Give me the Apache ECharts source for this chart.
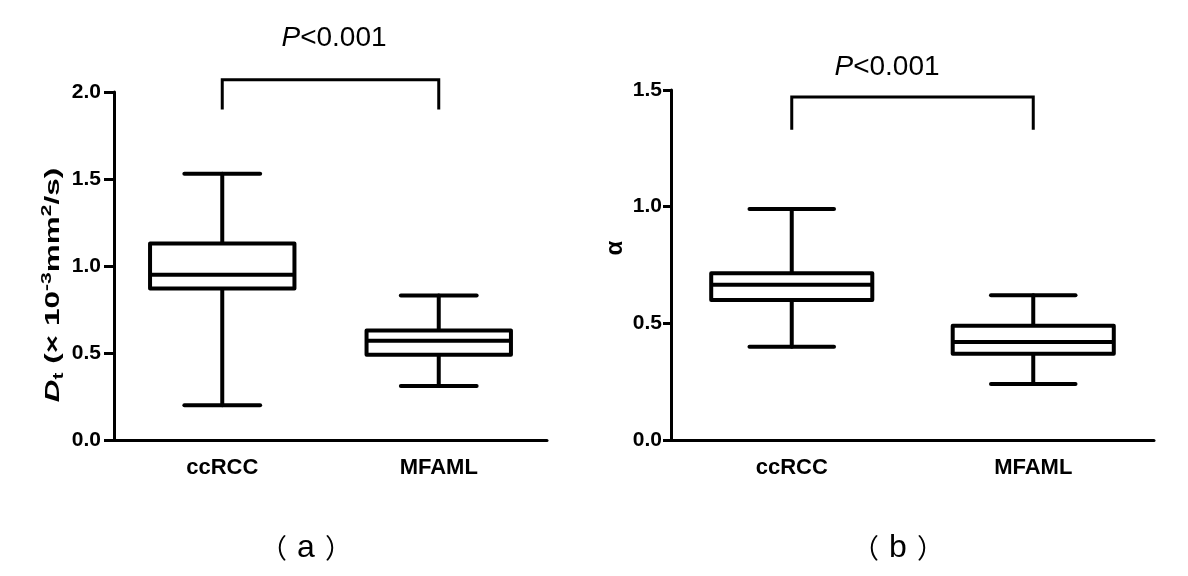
<!DOCTYPE html>
<html>
<head>
<meta charset="utf-8">
<script src="https://cdn.jsdelivr.net/npm/echarts@6/dist/echarts.min.js"></script>
<style>
html, body { margin: 0; padding: 0; background: #fff; }
#main { width: 1188px; height: 576px; }
</style>
</head>
<body>
<div id="main"></div>
<script>
// groups on the x axis
var groups = ['ccRCC', 'MFAML'];

// (a) Dt, each: [min, Q1, median, Q3, max]
var dtCcrcc = [0.20, 0.87, 0.95, 1.13, 1.53];
var dtMfaml = [0.31, 0.49, 0.57, 0.63, 0.83];

// (b) alpha, each: [min, Q1, median, Q3, max]
var alphaCcrcc = [0.40, 0.60, 0.665, 0.715, 0.99];
var alphaMfaml = [0.24, 0.37, 0.42, 0.49, 0.62];

// y tick values
var dtTicks = [0, 0.5, 1.0, 1.5, 2.0];
var alphaTicks = [0, 0.5, 1.0, 1.5];

// significance bracket: [top, bottom] in y units
var dtBracket = [2.07, 1.90];
var alphaBracket = [1.47, 1.33];

var pLabel = '<0.001';
var panelLetters = ['a', 'b'];

var chart = echarts.init(document.getElementById('main'));

function boxItem(idx, v) {
    return [idx].concat(v);
}

function renderBox(params, api) {
    var idx = api.value(0);
    var lo = api.coord([idx, api.value(1)]);
    var q1 = api.coord([idx, api.value(2)]);
    var med = api.coord([idx, api.value(3)]);
    var q3 = api.coord([idx, api.value(4)]);
    var hi = api.coord([idx, api.value(5)]);
    var band = api.size([1, 0])[0];
    var bw = band * 0.667, cw = band * 0.35;
    var x = lo[0];
    var st = { stroke: '#000', lineWidth: 4, fill: 'none', lineCap: 'round' };
    return {
        type: 'group',
        children: [
            { type: 'line', shape: { x1: x, y1: hi[1], x2: x, y2: q3[1] }, style: st },
            { type: 'line', shape: { x1: x, y1: q1[1], x2: x, y2: lo[1] }, style: st },
            { type: 'line', shape: { x1: x - cw / 2, y1: hi[1], x2: x + cw / 2, y2: hi[1] }, style: st },
            { type: 'line', shape: { x1: x - cw / 2, y1: lo[1], x2: x + cw / 2, y2: lo[1] }, style: st },
            { type: 'rect', shape: { x: x - bw / 2, y: q3[1], width: bw, height: q1[1] - q3[1] },
              style: { stroke: '#000', lineWidth: 4, fill: '#fff', lineJoin: 'round' } },
            { type: 'line', shape: { x1: x - bw / 2, y1: med[1], x2: x + bw / 2, y2: med[1] },
              style: { stroke: '#000', lineWidth: 4 } }
        ]
    };
}

function renderBracket(params, api) {
    var a = api.coord([api.value(0), api.value(3)]);
    var b = api.coord([api.value(0), api.value(2)]);
    var c = api.coord([api.value(1), api.value(2)]);
    var d = api.coord([api.value(1), api.value(3)]);
    return {
        type: 'polyline',
        shape: { points: [a, b, c, d] },
        style: { stroke: '#000', lineWidth: 3, fill: 'none' }
    };
}

function xAxisOpt(gi) {
    return {
        type: 'category',
        gridIndex: gi,
        data: groups,
        axisLine: { lineStyle: { color: '#000', width: 3 } },
        axisTick: { alignWithLabel: true, length: 6, lineStyle: { color: '#000', width: 3 } },
        axisLabel: { color: '#000', fontSize: 22, fontWeight: 'bold', fontFamily: 'Liberation Sans', margin: 17 },
        splitLine: { show: false }
    };
}

function yAxisOpt(gi, ticks, tickLen, margin) {
    return {
        type: 'value',
        gridIndex: gi,
        min: ticks[0],
        max: ticks[ticks.length - 1],
        interval: ticks[1] - ticks[0],
        axisLine: { show: true, lineStyle: { color: '#000', width: 3 } },
        axisTick: { show: true, length: tickLen, lineStyle: { color: '#000', width: 3 } },
        axisLabel: {
            color: '#000', fontSize: 21, fontWeight: 'bold', fontFamily: 'Liberation Sans', margin: margin,
            formatter: function (v) { return v.toFixed(1); }
        },
        splitLine: { show: false }
    };
}

var pRich = {
    i: { fontStyle: 'italic', fontSize: 28, fontFamily: 'Liberation Sans', color: '#000' },
    r: { fontSize: 28, fontFamily: 'Liberation Sans', color: '#000' }
};

var panelRich = {
    p: { fontSize: 27, fontFamily: 'Noto Sans CJK SC', color: '#000' },
    l: { fontSize: 32, fontFamily: 'Liberation Sans', color: '#000', padding: [0, 10, 0, 10] }
};

function panelText(letter) {
    return '{p|（}{l|' + letter + '}{p|）}';
}

var option = {
    backgroundColor: '#fff',
    animation: false,
    grid: [
        { left: 114, top: 92, width: 433, height: 348 },
        { left: 671, top: 90, width: 483, height: 350 }
    ],
    xAxis: [xAxisOpt(0), xAxisOpt(1)],
    yAxis: [yAxisOpt(0, dtTicks, 10, 13), yAxisOpt(1, alphaTicks, 8, 9)],
    series: [
        {
            type: 'custom', xAxisIndex: 0, yAxisIndex: 0,
            renderItem: renderBox,
            encode: { x: 0, y: [1, 2, 3, 4, 5] },
            data: [boxItem(0, dtCcrcc), boxItem(1, dtMfaml)]
        },
        {
            type: 'custom', xAxisIndex: 1, yAxisIndex: 1,
            renderItem: renderBox,
            encode: { x: 0, y: [1, 2, 3, 4, 5] },
            data: [boxItem(0, alphaCcrcc), boxItem(1, alphaMfaml)]
        },
        {
            type: 'custom', xAxisIndex: 0, yAxisIndex: 0,
            renderItem: renderBracket,
            encode: { x: [0, 1], y: [2, 3] },
            data: [[0, 1].concat(dtBracket)]
        },
        {
            type: 'custom', xAxisIndex: 1, yAxisIndex: 1,
            renderItem: renderBracket,
            encode: { x: [0, 1], y: [2, 3] },
            data: [[0, 1].concat(alphaBracket)]
        }
    ],
    graphic: [
        {
            type: 'text', x: 334, y: 38,
            style: { text: '{i|P}{r|' + pLabel + '}', rich: pRich, align: 'center', verticalAlign: 'middle' }
        },
        {
            type: 'text', x: 887, y: 67,
            style: { text: '{i|P}{r|' + pLabel + '}', rich: pRich, align: 'center', verticalAlign: 'middle' }
        },
        {
            type: 'text', x: 53, y: 285, rotation: Math.PI / 2, scaleX: 1.5,
            style: {
                text: '{d|D}{sub|t}{n| (× 10}{sup|-3}{n|mm}{sup|2}{n|/s)}',
                align: 'center', verticalAlign: 'middle',
                rich: {
                    d: { fontSize: 21, fontWeight: 'bold', fontStyle: 'italic', fontFamily: 'Liberation Sans', color: '#000', lineHeight: 26 },
                    n: { fontSize: 21, fontWeight: 'bold', fontFamily: 'Liberation Sans', color: '#000', lineHeight: 26 },
                    sub: { fontSize: 14, fontWeight: 'bold', fontFamily: 'Liberation Sans', color: '#000', verticalAlign: 'bottom', lineHeight: 14 },
                    sup: { fontSize: 14, fontWeight: 'bold', fontFamily: 'Liberation Sans', color: '#000', verticalAlign: 'top', lineHeight: 14 }
                }
            }
        },
        {
            type: 'text', x: 615, y: 248, rotation: Math.PI / 2,
            style: { text: 'α', fontSize: 24, fontWeight: 'bold', fontFamily: 'Liberation Sans', fill: '#000', align: 'center', verticalAlign: 'middle' }
        },
        {
            type: 'text', x: 306, y: 548,
            style: { text: panelText(panelLetters[0]), rich: panelRich, align: 'center', verticalAlign: 'middle' }
        },
        {
            type: 'text', x: 898, y: 548,
            style: { text: panelText(panelLetters[1]), rich: panelRich, align: 'center', verticalAlign: 'middle' }
        }
    ]
};

chart.setOption(option);
</script>
</body>
</html>
